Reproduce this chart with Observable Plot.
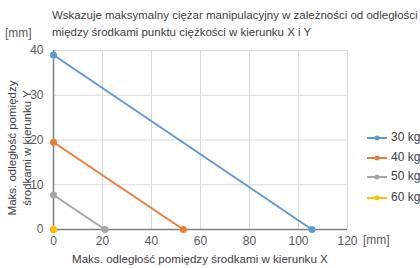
<!DOCTYPE html>
<html><head><meta charset="utf-8">
<script src="https://cdn.jsdelivr.net/npm/d3@7"></script>
<script src="https://cdn.jsdelivr.net/npm/@observablehq/plot@0.6"></script>
<style>
body{margin:0;background:#fff;font-family:"Liberation Sans",Arial,sans-serif;color:#404040;}
#wrap{position:relative;width:420px;height:268px;overflow:hidden;}
#wrap svg{position:absolute;left:0;top:0;}
.t{position:absolute;white-space:nowrap;font-size:11.5px;line-height:12px;color:#404040;}
</style></head><body>
<div id="wrap"></div>
<script>
const series = ["30 kg","40 kg","50 kg","60 kg"];
const colors = ["#5b9bd5","#ed7d31","#a5a5a5","#ffc000"];
const yAtZero = [39, 19.5, 7.7, 0];   // max Y [mm] at X=0
const xAtZero = [105.5, 53, 21, 0];    // max X [mm] at Y=0
const xTicks = [0,20,40,60,80,100,120];
const yTicks = [0,10,20,30,40];

const pts = [];
series.forEach((s,i)=>{
  pts.push({s, x:0, y:yAtZero[i]});
  pts.push({s, x:xAtZero[i], y:0});
});

const W=420,H=268;
const chart = Plot.plot({
  width:W, height:H,
  marginLeft:53, marginRight:73, marginTop:50, marginBottom:39,
  style:{fontFamily:"Liberation Sans, Arial, sans-serif", fontSize:"12px", color:"#595959", background:"transparent"},
  x:{domain:[0,120], ticks:xTicks, tickSize:0, tickPadding:7, label:null},
  y:{domain:[0,40], ticks:yTicks, tickSize:0, tickPadding:10, label:null},
  color:{domain:series, range:colors},
  marks:[
    Plot.gridX(xTicks,{stroke:"#d9d9d9", strokeOpacity:1}),
    Plot.gridY(yTicks,{stroke:"#d9d9d9", strokeOpacity:1}),
    Plot.axisX({ticks:xTicks, tickSize:0, tickPadding:7, label:null, fill:"#595959", fontSize:12}),
    Plot.axisY({ticks:yTicks, tickSize:0, tickPadding:10, label:null, fill:"#595959", fontSize:12}),
    Plot.ruleY([0],{stroke:"#808080", strokeWidth:1.5}),
    Plot.ruleX([0],{stroke:"#808080", strokeWidth:1.5}),
    Plot.line(pts,{x:"x", y:"y", z:"s", stroke:"s", strokeWidth:2}),
    Plot.dot(pts,{x:"x", y:"y", fill:"s", r:3.5})
  ]
});
const wrap=document.getElementById("wrap");
wrap.appendChild(chart);

function addText(txt,left,top,extra){
  const d=document.createElement("div");d.className="t";d.textContent=txt;
  d.style.left=left+"px";d.style.top=top+"px";
  if(extra) Object.assign(d.style,extra);
  wrap.appendChild(d);return d;
}
addText("Wskazuje maksymalny ciężar manipulacyjny w zależności od odległości",52,9);
addText("między środkami punktu ciężkości w kierunku X i Y",52,26);
addText("[mm]",5,27,{fontSize:"12px",color:"#595959"});
addText("[mm]",363,234,{fontSize:"12px",color:"#595959"});
addText("Maks. odległość pomiędzy środkami w kierunku X",72,253,{fontSize:"11.6px"});
// rotated y label
const yl=document.createElement("div");
yl.className="t";
yl.style.textAlign="center";
yl.style.lineHeight="15px";
yl.innerHTML="Maks. odległość pomiędzy<br>środkami w kierunku Y";
yl.style.left="20px";yl.style.top="148px";
yl.style.transform="translate(-50%,-50%) rotate(-90deg)";
wrap.appendChild(yl);

// legend
const legY=[138,158,177,198];
series.forEach((s,i)=>{
  const sv=document.createElementNS("http://www.w3.org/2000/svg","svg");
  sv.setAttribute("width","22");sv.setAttribute("height","8");
  sv.style.position="absolute";sv.style.left="366px";sv.style.top=(legY[i]-4)+"px";
  sv.innerHTML=`<line x1="1" y1="4" x2="21" y2="4" stroke="${colors[i]}" stroke-width="2"/><circle cx="11" cy="4" r="2.5" fill="${colors[i]}"/>`;
  wrap.appendChild(sv);
  addText(s,391,legY[i]-7,{fontSize:"12px"});
});
</script>
</body></html>
